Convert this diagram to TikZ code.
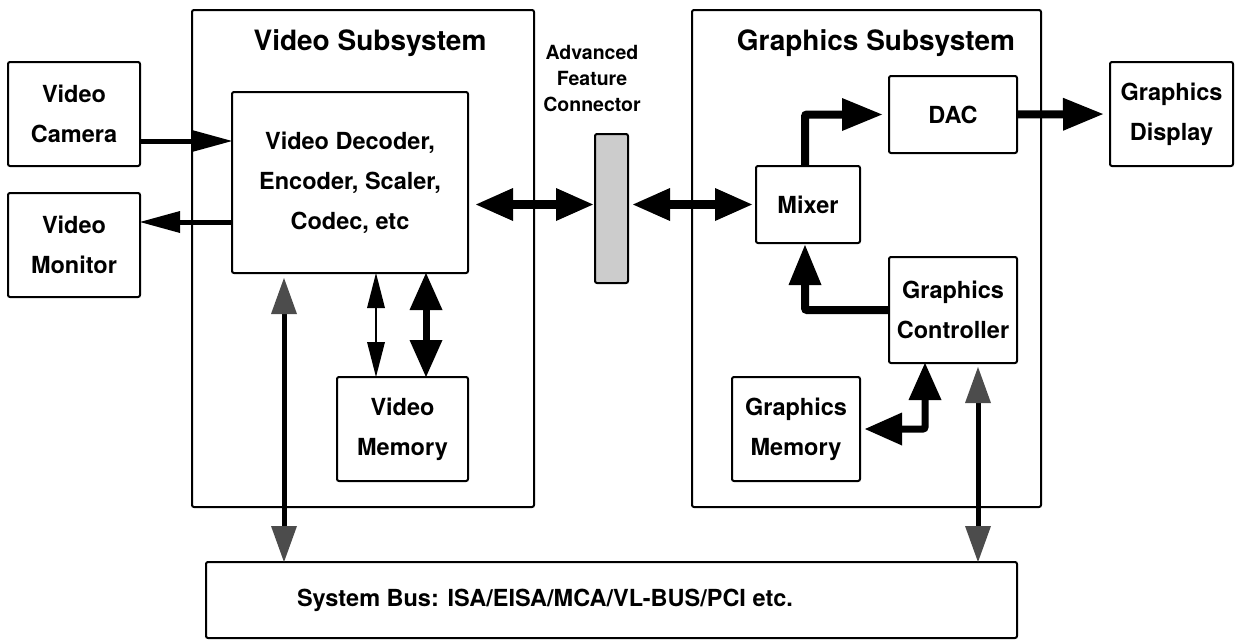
\documentclass[tikz,border=0pt]{standalone}
\usepackage{fontspec}
\setmainfont{TeX Gyre Heros}
\usetikzlibrary{arrows.meta}
\newcommand\lblfont{\fontsize{23.5}{40}\selectfont\bfseries}
\newcommand\ttlfont{\fontsize{28}{32}\selectfont\bfseries}
\newcommand\afcfont{\fontsize{19.5}{26}\selectfont\bfseries}
\begin{document}
\begin{tikzpicture}[x=1pt,y=-1pt,
  box/.style={draw, line width=2pt, inner sep=0pt, outer sep=0pt, font=\lblfont, align=center},
  txt/.style={inner sep=0pt, outer sep=0pt, align=center},
  arrbig/.style={line width=9pt, arrows={Triangle[length=37pt,width=33pt,line width=0pt]-Triangle[length=37pt,width=33pt,line width=0pt]}},
  arrone/.style={line width=8pt, arrows={-Triangle[length=40pt,width=33pt,line width=0pt]}},
  arrmed/.style={line width=5pt, arrows={-Triangle[length=40pt,width=22pt,line width=0pt]}},
  arrthick/.style={line width=7pt, arrows={Triangle[length=37pt,width=33pt,line width=0pt]-Triangle[length=37pt,width=33pt,line width=0pt]}},
  arrthin/.style={line width=2pt, arrows={Triangle[length=35pt,width=18pt,line width=0pt]-Triangle[length=35pt,width=18pt,line width=0pt]}},
  arrbus/.style={line width=5pt, arrows={Triangle[length=36pt,width=26pt,line width=0pt,color=black!70]-Triangle[length=36pt,width=26pt,line width=0pt,color=black!70]}},
  rounded corners=2pt]
\useasboundingbox (0,0) rectangle (1241,640);
% outer subsystems
\node[box, minimum width=342pt, minimum height=497pt] (vsub) at (363,258.5) {};
\node[box, minimum width=349pt, minimum height=497pt] (gsub) at (866.5,258.5) {};
\node[txt, font=\ttlfont] (vtitle) at (370,43) {Video Subsystem};
\node[txt, font=\ttlfont] (gtitle) at (876,43) {Graphics Subsystem};
\node[txt, font=\afcfont] (afctext) at (592,79) {Advanced\\Feature\\Connector};
% boxes
\node[box, minimum width=132pt, minimum height=104pt] (cam) at (74,114) {Video\\Camera};
\node[box, minimum width=132pt, minimum height=104pt] (mon) at (74,245) {Video\\Monitor};
\node[box, minimum width=236pt, minimum height=181pt] (dec) at (350,182.5) {Video Decoder,\\Encoder, Scaler,\\Codec, etc};
\node[box, minimum width=131pt, minimum height=104pt] (vmem) at (402.5,429) {Video\\Memory};
\node[box, fill=black!20, minimum width=33pt, minimum height=149pt] (afc) at (611.5,208.5) {};
\node[box, minimum width=104pt, minimum height=77pt] (mixer) at (808,204.5) {Mixer};
\node[box, minimum width=128pt, minimum height=77pt] (dac) at (953,114.5) {DAC};
\node[box, minimum width=123pt, minimum height=104pt] (disp) at (1171.5,114) {Graphics\\Display};
\node[box, minimum width=128pt, minimum height=106pt] (ctrl) at (953,310) {Graphics\\Controller};
\node[box, minimum width=128pt, minimum height=104pt] (gmem) at (796,429) {Graphics\\Memory};
\node[box, minimum width=811pt, minimum height=76pt] (bus) at (611.5,600) {};
\node[txt, font=\lblfont, anchor=west] (bustext) at (297,600) {System Bus: ISA/EISA/MCA/VL-BUS/PCI etc.};
% helper coordinates
\coordinate (camout) at ([yshift=-27pt]cam.east);
\coordinate (monin) at ([yshift=23pt]mon.east);
\coordinate (thinx) at ([xshift=26pt]dec.south);
\coordinate (thickx) at ([xshift=76pt]dec.south);
\coordinate (busl) at ([xshift=-66pt]dec.south);
\coordinate (busr) at ([xshift=25pt]ctrl.south);
\coordinate (afcl) at (dec.east |- mixer.west);
\coordinate (mixtop) at ([xshift=-3pt]mixer.north);
\coordinate (mixbot) at ([xshift=-3pt]mixer.south);
\coordinate (ctrlbot) at ([xshift=-28pt]ctrl.south);
% connectors
\draw[arrmed] (camout) -- (camout -| dec.west);
\draw[arrmed] (monin -| dec.west) -- (monin);
\draw[arrthin] (thinx) -- (thinx |- vmem.north);
\draw[arrthick] (thickx) -- (thickx |- vmem.north);
\draw[arrbus, shorten <=5pt] (busl) -- (busl |- bus.north);
\draw[arrbus, shorten <=4pt] (busr) -- (busr |- bus.north);
\draw[arrbig, shorten <=8pt, shorten >=2pt] (afcl) -- (afcl -| afc.west);
\draw[arrbig, shorten <=5pt, shorten >=4pt] (afc.east |- mixer.west) -- (mixer.west);
\draw[arrone, shorten >=7pt] (mixtop) |- (dac.west);
\draw[arrone, shorten >=7pt] (dac.east) -- (disp.west);
\draw[arrone, shorten >=2pt] (ctrl.west) -| (mixbot);
\draw[arrthick, shorten <=5pt] (gmem.east) -| (ctrlbot);
\end{tikzpicture}
\end{document}
